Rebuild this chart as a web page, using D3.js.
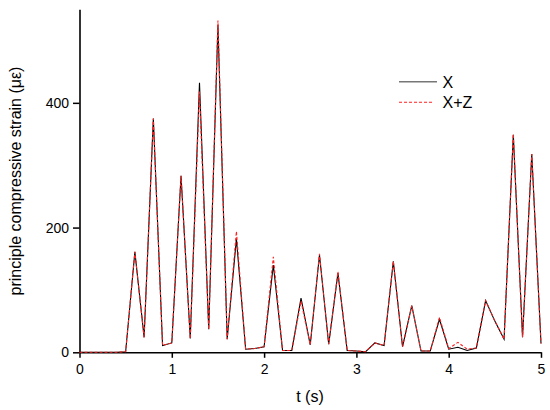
<!DOCTYPE html>
<html>
<head>
<meta charset="utf-8">
<script src="https://cdn.jsdelivr.net/npm/d3@7"></script>
<style>
html,body{margin:0;padding:0;background:#fff;}
svg text{font-family:"Liberation Sans",Arial,sans-serif;fill:#000;}
</style>
</head>
<body>
<svg id="chart" width="550" height="410"></svg>
<script>
const times = [0,0.1,0.2,0.3,0.4,0.5,0.6,0.7,0.8,0.9,1.0,1.1,1.2,1.3,1.4,1.5,1.6,1.7,1.8,1.9,2.0,2.1,2.2,2.3,2.4,2.5,2.6,2.7,2.8,2.9,3.0,3.1,3.2,3.3,3.4,3.5,3.6,3.7,3.8,3.9,4.0,4.1,4.2,4.3,4.4,4.5,4.6,4.7,4.8,4.9,5.0];
const seriesX = [0,0,0,0,0,1,161,24,375,11,15,283,22,432,37,525,21,182,5,6,9,140,3,3,87,12,156,13,127,3,2,1,15,11,146,9,75,2,2,53,5,8,3,7,83,50,21,349,24,318,14];
const seriesXZ = [0,0,0,0,0,1,161,24,375,11,15,283,22,418,37,532,21,194,5,6,9,153,3,3,82,12,158,13,129,3,2,1,15,11,146,9,75,2,2,56,6,16,5,7,83,50,21,350,24,318,14];
const xTicks = [0,1,2,3,4,5];
const xMinor = [0.5,1.5,2.5,3.5,4.5];
const yTicks = [0,200,400];
const yMinor = [100,300,500];
const legendLabels = ["X","X+Z"];

const svg = d3.select("#chart");
const x = d3.scaleLinear().domain([0,5]).range([79.5,541]);
const y = d3.scaleLinear().domain([0,550]).range([352.3,9.3]);

// axes
const gx = svg.append("g").attr("transform","translate(0,352.3)");
gx.call(d3.axisBottom(x).tickValues(xMinor).tickSize(3.5).tickFormat(""));
gx.call(d3.axisBottom(x).tickValues(xTicks).tickSize(5.5).tickSizeOuter(0).tickPadding(6).tickFormat(d3.format("d")));
gx.selectAll("path").attr("stroke-width",1.6);
gx.selectAll("line").attr("stroke-width",1.5);
gx.selectAll("text").style("font-size","14px").attr("fill","#000");

const gy = svg.append("g").attr("transform","translate(79.5,0)");
gy.call(d3.axisLeft(y).tickValues(yMinor).tickSize(3.5).tickFormat(""));
gy.call(d3.axisLeft(y).tickValues(yTicks).tickSize(6.5).tickSizeOuter(0).tickPadding(4).tickFormat(d3.format("d")));
gy.selectAll("path").attr("stroke-width",1.6);
gy.selectAll("line").attr("stroke-width",1.5);
gy.selectAll("text").style("font-size","14px").attr("fill","#000");

// lines
const line = d3.line().x((d,i)=>x(times[i])).y(d=>y(d));
svg.append("path").datum(seriesX).attr("d",line)
  .attr("fill","none").attr("stroke","#000").attr("stroke-width",1.1);
svg.append("path").datum(seriesXZ).attr("d",line)
  .attr("fill","none").attr("stroke","#ff2020").attr("stroke-width",1.1)
  .attr("stroke-dasharray","3,2");

// axis titles
svg.append("text").attr("x",310).attr("y",402).attr("text-anchor","middle")
  .style("font-size","16px").text("t (s)");
svg.append("text").attr("transform","translate(21,181) rotate(-90)")
  .attr("text-anchor","middle").style("font-size","16px")
  .text("principle compressive strain (\u03bc\u03b5)");

// legend
const lg = svg.append("g");
lg.append("line").attr("x1",399).attr("x2",437).attr("y1",81.7).attr("y2",81.7)
  .attr("stroke","#777").attr("stroke-width",1.6);
lg.append("line").attr("x1",399).attr("x2",434).attr("y1",102.3).attr("y2",102.3)
  .attr("stroke","#ff2020").attr("stroke-width",1.1).attr("stroke-dasharray","3,2");
lg.append("text").attr("x",442.5).attr("y",87.7).style("font-size","16px").text(legendLabels[0]);
lg.append("text").attr("x",442.5).attr("y",108.3).style("font-size","16px").text(legendLabels[1]);
</script>
</body>
</html>
